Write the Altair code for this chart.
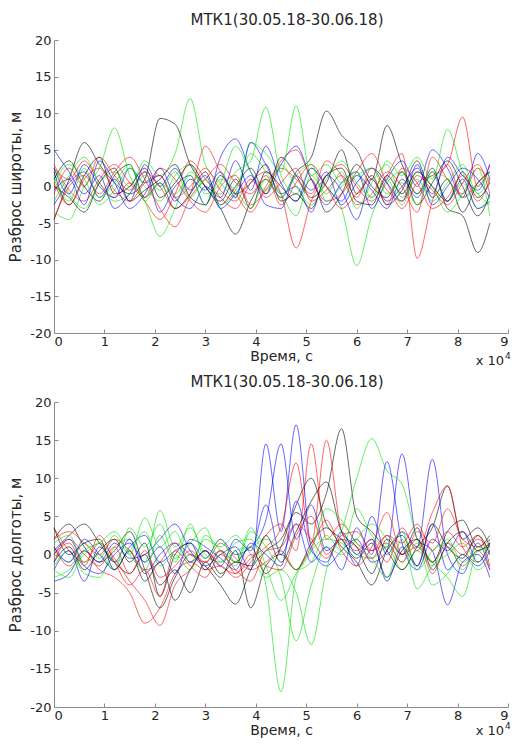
import altair as alt
import pandas as pd

TITLE = "МТК1(30.05.18-30.06.18)"
X_TITLE = "Время, с"
Y_TITLE_TOP = "Разброс широты, м"
Y_TITLE_BOTTOM = "Разброс долготы, м"

TIME = [0, 3000, 6000, 9000, 12000, 15000, 18000, 21000, 24000, 27000,
        30000, 33000, 36000, 39000, 42000, 45000, 48000, 51000, 54000, 57000,
        60000, 63000, 66000, 69000, 72000, 75000, 78000, 81000, 84000, 86400]
X_TICKS = [0, 10000, 20000, 30000, 40000, 50000, 60000, 70000, 80000, 90000]
Y_TICKS = [-20, -15, -10, -5, 0, 5, 10, 15, 20]

COLOR_KEYS = ["r", "g", "b", "k"]
COLOR_VALUES = ["#ff0000", "#00e000", "#0000ff", "#000000"]

# ---- top panel: latitude spread ----
lat_red = [
    [2.5, 1.0, 3.5, 0.5, -1.5, 0.5, -2.0, -4.5, -1.0, 3.5, 1.0, -1.5, -3.0, 0.5, 2.0, -1.0, -8.4, -2.0, 1.5, 3.0, 0.0, -2.0, 1.5, 4.5, -9.8, -2.0, 3.0, -1.5, 0.5, 2.0],
    [-1.0, 2.5, 0.0, 4.0, 1.5, -0.5, 2.0, 0.0, -3.0, -1.0, 5.5, 2.0, -1.0, -3.5, 0.0, 3.5, 5.0, 1.0, -2.0, -1.0, 2.0, 4.5, 0.5, -3.0, 0.5, 1.5, 3.0, 9.5, 0.0, 3.0],
    [3.0, -0.5, -2.0, 1.0, 3.0, 0.5, -1.5, 2.5, 1.0, -2.0, -3.5, 0.0, 1.5, -2.5, -0.5, 2.5, 1.0, -1.0, 3.5, 1.5, -2.5, -1.0, 2.0, 0.0, -3.5, 4.0, 1.0, -1.0, 2.5, 0.5],
    [-4.5, 0.0, 1.5, -1.0, 2.0, 4.0, 1.0, -3.0, -5.5, -1.5, 1.0, 3.0, 0.5, -1.0, 1.5, -2.5, 0.5, 3.0, 0.0, -3.0, -1.0, 1.0, -2.5, 2.5, 0.5, -3.0, -1.5, 1.5, -2.0, 1.0],
    [0.5, -2.5, 1.0, 2.5, -0.5, -2.0, 0.5, 1.5, -1.5, 0.0, 2.5, -0.5, -2.0, 1.0, -1.5, 0.5, 2.5, -2.0, -0.5, 1.5, -1.5, 2.5, -0.5, -2.0, 1.5, -0.5, -2.5, 0.5, 3.0, -1.0],
]
lat_green = [
    [-3.5, -4.5, 0.0, 2.5, 8.0, 1.5, -2.0, -6.8, -3.0, 2.0, 0.0, -1.0, 2.0, 3.5, 10.8, 1.5, -1.0, 2.5, 0.0, -3.0, -10.8, -4.0, 0.5, 2.0, -1.0, 1.5, -2.0, 0.5, -3.0, -1.5],
    [2.5, -1.0, -3.0, 0.5, 2.0, 0.0, 3.5, 1.5, 4.5, 12.0, 3.0, 0.5, -1.5, 6.0, 4.5, 2.0, 11.0, 1.5, 3.0, 0.5, 2.0, -1.5, 3.5, 1.5, 4.0, 1.0, 7.8, 2.0, -1.0, -2.5],
    [0.5, 3.0, 1.0, -2.5, -0.5, 2.5, 0.0, -2.0, 1.5, 3.0, -1.0, 0.5, 5.5, 2.0, -0.5, 3.0, 0.0, -2.5, 1.0, 3.5, 0.5, -1.5, 1.0, -2.5, 2.0, 0.0, -3.5, -1.0, 2.5, -4.0],
    [-2.0, 1.5, 4.0, 0.5, -2.0, -1.0, 1.5, -0.5, 2.0, -1.5, 1.0, -2.5, -0.5, 4.5, 2.0, -1.0, -4.0, 1.5, -1.0, 2.0, -3.0, 0.5, 3.0, -1.5, 1.0, -2.0, 0.5, 3.0, -1.0, 1.5],
    [1.0, -2.0, 2.5, -1.5, 0.5, 3.0, -2.0, 0.5, -1.0, 1.5, -2.5, 1.0, -0.5, -3.0, 1.0, -1.5, 1.5, 3.0, -2.0, 0.0, 1.5, 2.5, -1.0, 0.5, -2.5, 2.0, 1.0, -1.5, 0.0, 2.0],
]
lat_blue = [
    [5.0, 2.0, -1.0, 1.5, -3.0, -1.0, 2.0, -3.5, 0.0, 1.5, -2.5, 4.0, 6.5, 2.0, -1.0, 3.0, 5.5, 1.0, -2.5, 0.5, 2.0, -3.0, 1.0, 3.5, 0.0, 5.0, 2.5, -1.5, 4.5, 1.0],
    [2.5, -1.0, 3.0, 0.0, -1.5, 2.5, 0.5, 1.5, -2.0, 1.0, -0.5, 2.0, -1.5, 6.0, 3.0, -1.0, 0.0, -3.5, 1.5, -0.5, -4.5, 1.0, -2.0, 0.0, 2.5, -1.0, 4.0, 1.5, -0.5, 3.0],
    [-0.5, 1.0, -2.5, 3.5, 0.5, -3.0, -1.0, 2.5, -1.5, -3.0, 0.0, -1.5, 3.5, -0.5, 5.5, 0.5, -2.0, 2.5, 0.0, -2.0, 1.5, -0.5, -3.0, 1.0, -1.5, 2.0, -2.0, 1.0, -3.0, -2.0],
    [-2.5, 0.5, 2.0, -1.5, 1.0, -2.0, 3.0, 0.0, 2.5, -0.5, 1.5, -3.0, -1.0, 1.5, -2.5, -3.0, 1.5, -0.5, 2.0, -2.5, 0.5, 2.5, 0.5, -2.0, 3.0, -2.5, 0.0, 2.5, 1.0, -1.5],
]
lat_black = [
    [-4.5, 1.0, 6.0, 3.0, 0.5, -1.0, 1.0, 9.3, 8.5, 3.0, 0.0, -3.0, -6.5, -2.0, 1.0, -1.5, 2.0, 4.0, 10.3, 7.0, 5.0, 1.0, 8.3, 3.0, -1.0, 2.5, -3.0, -4.0, -9.0, -5.0],
    [1.0, 3.5, 0.0, -2.0, 1.5, 3.0, -1.5, 0.5, -3.0, -1.0, 2.0, -2.5, 0.0, 2.5, -1.0, 4.0, 1.5, -1.5, 0.5, 5.0, -1.0, 1.5, -2.5, -0.5, 3.5, -1.5, 1.0, -3.5, 0.5, 2.0],
    [2.0, -2.5, 1.5, 4.0, -1.0, 0.0, 2.5, -1.5, 0.5, 3.0, 0.0, -2.0, 1.0, -3.0, 2.0, 0.0, -2.0, 1.0, -3.5, -1.0, 3.0, 0.0, -1.5, 2.0, -2.5, 0.5, 3.5, 0.0, -4.0, -1.0],
    [0.0, -1.5, -3.5, 0.5, 2.5, -2.0, -0.5, 1.0, 3.0, -1.5, -2.5, 1.5, -1.0, 0.5, 3.0, -2.0, -1.0, -3.0, 1.5, 2.5, -2.0, -2.5, 1.5, -1.0, 2.0, 0.0, -2.0, 2.0, -1.5, 0.5],
]

# ---- bottom panel: longitude spread ----
lon_red = [
    [1.0, -1.5, 0.5, -2.0, -3.0, -5.0, -9.0, -7.0, -2.5, -1.0, -2.0, -1.5, -3.0, -1.0, 2.5, 4.0, 0.5, 14.5, 2.0, 4.0, 1.5, 0.5, 2.5, 0.0, 1.0, -1.0, 1.5, 0.0, 2.0, 0.5],
    [3.5, 0.5, -1.0, 1.5, -0.5, -3.5, -6.0, -9.3, -4.0, -2.0, 0.5, -1.5, -2.5, -0.5, 1.0, 3.5, 12.0, 1.5, 15.0, 3.0, 0.5, 2.0, -1.0, 3.5, 0.5, 5.5, 9.0, 1.0, -1.0, 1.5],
    [-1.0, 2.0, 0.0, -1.5, 1.0, -2.5, 0.5, -3.0, -1.5, 0.5, -1.0, 1.5, -0.5, -2.0, -1.0, 0.5, -2.0, 1.0, 4.5, 0.5, -1.5, 1.0, 5.5, 0.0, 2.0, -2.5, 1.0, -1.5, 0.5, -2.0],
    [2.0, 3.0, 1.5, 0.0, 2.0, 0.5, -2.0, -1.0, 1.5, 0.0, -1.0, 0.5, -2.5, 0.0, -1.5, -2.0, 2.5, 5.0, 0.0, 2.0, 1.0, -0.5, 2.5, 1.5, 4.0, 0.5, 3.0, 1.0, 2.5, -1.5],
    [0.0, 1.5, -1.5, 2.5, -1.0, -4.0, -2.0, -5.5, 0.5, -1.5, -3.0, 0.0, -2.0, -3.5, 0.5, 1.0, 4.0, 2.0, -0.5, 2.5, 3.0, 0.5, 1.5, -1.0, 3.0, 1.5, 6.0, 2.0, 1.0, 2.0],
]
lon_green = [
    [-1.5, 0.5, -2.5, -3.0, 1.0, 2.0, -1.0, 5.8, 1.0, 3.5, 0.0, -1.0, 1.5, 2.0, -4.0, -18.0, -3.0, 0.5, 2.0, 1.5, 0.0, -0.5, 1.0, -2.0, 0.5, -1.5, 2.0, -1.0, 0.5, 1.0],
    [0.5, -1.0, 1.5, -0.5, 2.5, 0.0, 4.8, 1.0, 3.0, -1.0, 2.0, 1.0, 2.5, 0.0, -3.0, -2.0, -5.0, -11.8, -2.0, 3.0, 10.0, 15.2, 11.0, 9.2, 2.0, -1.0, -3.0, -5.5, 0.5, 1.0],
    [-3.0, -2.0, 0.0, 1.5, -1.0, 0.5, 3.0, -1.5, 0.0, -2.0, 2.5, 0.5, -1.5, 3.0, 1.0, -3.0, -11.3, -4.0, 1.0, 0.0, 2.0, 4.0, 2.0, -1.0, 1.5, -4.0, -2.5, 0.0, -2.0, -0.5],
    [1.5, 2.5, -1.0, 0.0, -2.0, 3.5, 1.0, 4.0, -0.5, 1.5, 3.5, -1.0, 0.5, 1.0, 2.0, 0.5, -2.0, -1.0, 2.5, 0.5, 6.0, 2.5, 1.0, 3.0, -2.0, 0.5, 1.5, -2.0, 1.0, 0.0],
    [-2.0, -3.0, 0.5, 1.5, 3.0, 0.0, -2.0, 2.5, -1.0, 4.0, -0.5, 2.0, -1.0, 3.5, -1.5, -6.0, -2.5, 0.5, 6.0, 4.5, 1.5, -0.5, -3.0, 2.0, -4.5, -1.5, 0.0, 1.5, -1.0, 2.0],
]
lon_blue = [
    [-3.5, -2.5, 0.5, -1.0, 1.5, -0.5, 0.0, 2.0, 4.0, 0.5, -1.5, 0.0, 1.0, -2.0, 14.5, 3.0, 17.0, 1.0, -1.5, 0.5, 2.0, -1.0, 0.5, 13.2, 2.0, 0.5, -6.6, -1.0, 0.0, -3.0],
    [1.0, -1.0, 2.0, 0.0, -2.0, 1.0, 2.5, -1.0, 0.5, 1.5, -0.5, 2.0, 0.0, 1.0, 4.5, 14.5, 2.0, 6.5, 0.5, 2.0, -1.5, 5.0, 0.0, 3.0, 1.0, 12.5, 0.0, -2.5, 1.5, -2.0],
    [-2.0, 0.5, -3.5, 1.0, -1.0, 2.0, -2.5, 0.0, 1.5, -1.0, 0.5, -1.5, 2.0, 0.5, 6.5, 0.0, 4.0, -1.0, 1.0, -2.0, 3.5, 0.0, 12.2, 1.5, -2.0, 2.0, 0.5, 3.0, -1.0, 1.5],
    [0.0, 2.0, -1.5, -2.5, 0.0, 1.5, -1.0, 1.0, -2.5, 2.0, 1.0, -0.5, -2.0, 1.5, 0.0, -1.5, 7.0, 0.5, -1.0, 3.0, 0.0, 2.0, -3.5, 1.0, -1.5, 4.0, -2.0, 0.0, -1.5, 0.5],
]
lon_black = [
    [2.0, 4.0, 1.0, -1.0, 0.5, 3.0, -2.0, -7.0, -3.0, 0.0, -1.5, -4.0, -6.5, -2.0, 0.5, 2.0, 5.5, 4.0, 8.0, 16.5, 5.0, 3.0, 0.5, -2.0, 1.0, 3.5, 9.0, 2.0, 3.5, 1.0],
    [0.5, 2.5, 4.0, 1.5, -1.0, -2.5, 0.0, -4.0, -2.0, -5.0, -1.0, -3.0, 0.5, -7.0, -1.5, 0.0, -2.0, 1.5, 3.5, 1.0, -1.0, -4.0, 0.5, 2.5, -1.5, 4.0, 1.0, -0.5, 2.5, 0.0],
    [-1.0, 1.0, -2.0, 0.5, 2.0, -1.0, 1.5, -5.5, 0.0, 1.5, -2.0, 0.5, -1.0, 1.0, -2.5, 1.0, 6.5, 10.0, 4.0, 2.0, -0.5, 1.5, -3.0, 0.5, 2.0, -1.0, 3.0, 4.5, 1.0, 2.5],
    [3.5, 0.0, 1.5, 2.0, -2.0, 0.5, -3.5, -1.0, -6.0, -2.0, 0.5, -2.5, -1.0, -1.5, 2.5, -1.0, 3.0, 7.0, 9.5, 3.0, 1.0, -2.5, 2.0, 0.0, 3.5, -2.0, 1.5, 3.0, 0.5, 1.5],
]

W = 454
H_TOP = 293
H_BOT = 305
FONT = "DejaVu Sans"
AXIS_GREY = "#8c8c8c"
TEXT = "#262626"
HYPHEN_LABEL = "datum.value < 0 ? '-' + abs(datum.value) : '' + datum.value"


def make_df(groups):
    rows = []
    n = max(len(v) for v in groups.values())
    for k in range(n):
        for key, lines in groups.items():
            if k < len(lines):
                for t, v in zip(TIME, lines[k]):
                    rows.append({"t": t, "v": v, "c": key, "id": f"{k}{key}"})
    return pd.DataFrame(rows)


def panel(groups, ytitle, H, exp_dy):
    df = make_df(groups)
    xs = alt.Scale(domain=[0, 90000], nice=False, zero=False)
    ys = alt.Scale(domain=[-20, 20], nice=False, zero=False)
    lines = alt.Chart(df).mark_line(
        strokeWidth=0.8, opacity=0.75, interpolate="monotone"
    ).encode(
        x=alt.X("t:Q", scale=xs, axis=alt.Axis(
            values=X_TICKS, labelExpr="datum.value / 10000", title=X_TITLE,
            ticks=False, grid=False, domainColor=AXIS_GREY, labelPadding=2,
            titlePadding=1, labelFontSize=13, titleFontSize=14)),
        y=alt.Y("v:Q", scale=ys, axis=alt.Axis(
            values=Y_TICKS, labelExpr=HYPHEN_LABEL, title=ytitle, ticks=False,
            grid=False, domainColor=AXIS_GREY, labelPadding=3, titlePadding=6,
            labelFontSize=13, titleFontSize=15)),
        color=alt.Color("c:N", scale=alt.Scale(domain=COLOR_KEYS, range=COLOR_VALUES), legend=None),
        detail="id:N",
    )
    tick_layer = alt.Chart(df).mark_point(opacity=0).encode(
        x=alt.X("t:Q", scale=xs, axis=alt.Axis(
            orient="top", offset=-H, values=X_TICKS, labels=False, domain=False,
            ticks=True, tickSize=4, tickColor=AXIS_GREY, grid=False, title=None)),
        y=alt.Y("v:Q", scale=ys, axis=alt.Axis(
            orient="right", offset=-W, values=Y_TICKS, labels=False, domain=False,
            ticks=True, tickSize=4, tickColor=AXIS_GREY, grid=False, title=None)),
    )
    exp_df = pd.DataFrame({"s": ["x 10"], "p": ["4"]})
    mult = alt.Chart(exp_df).mark_text(
        font=FONT, fontSize=13, color=TEXT, align="right", baseline="top"
    ).encode(x=alt.value(W - 4), y=alt.value(H + exp_dy), text="s:N")
    power = alt.Chart(exp_df).mark_text(
        font=FONT, fontSize=9, color=TEXT, align="left", baseline="top"
    ).encode(x=alt.value(W - 3), y=alt.value(H + exp_dy - 3), text="p:N")
    return alt.layer(lines, tick_layer, mult, power).resolve_axis(
        x="independent", y="independent"
    ).properties(
        width=W, height=H,
        title=alt.TitleParams(TITLE, anchor="middle", frame="group", offset=6, dx=6),
    )


top = panel({"r": lat_red, "g": lat_green, "b": lat_blue, "k": lat_black}, Y_TITLE_TOP, H_TOP, 22)
bottom = panel({"r": lon_red, "g": lon_green, "b": lon_blue, "k": lon_black}, Y_TITLE_BOTTOM, H_BOT, 18)

chart = alt.vconcat(top, bottom, spacing=7).properties(
    padding={"left": 0, "right": 0, "top": 5, "bottom": 0}
).configure_view(stroke=None).configure_axis(
    labelFont=FONT, titleFont=FONT, labelColor=TEXT, titleColor=TEXT,
    titleFontWeight="normal",
).configure_title(font=FONT, fontSize=15, fontWeight="normal", color=TEXT)

chart.save("out.html", embed_options={"renderer": "svg", "actions": False})
